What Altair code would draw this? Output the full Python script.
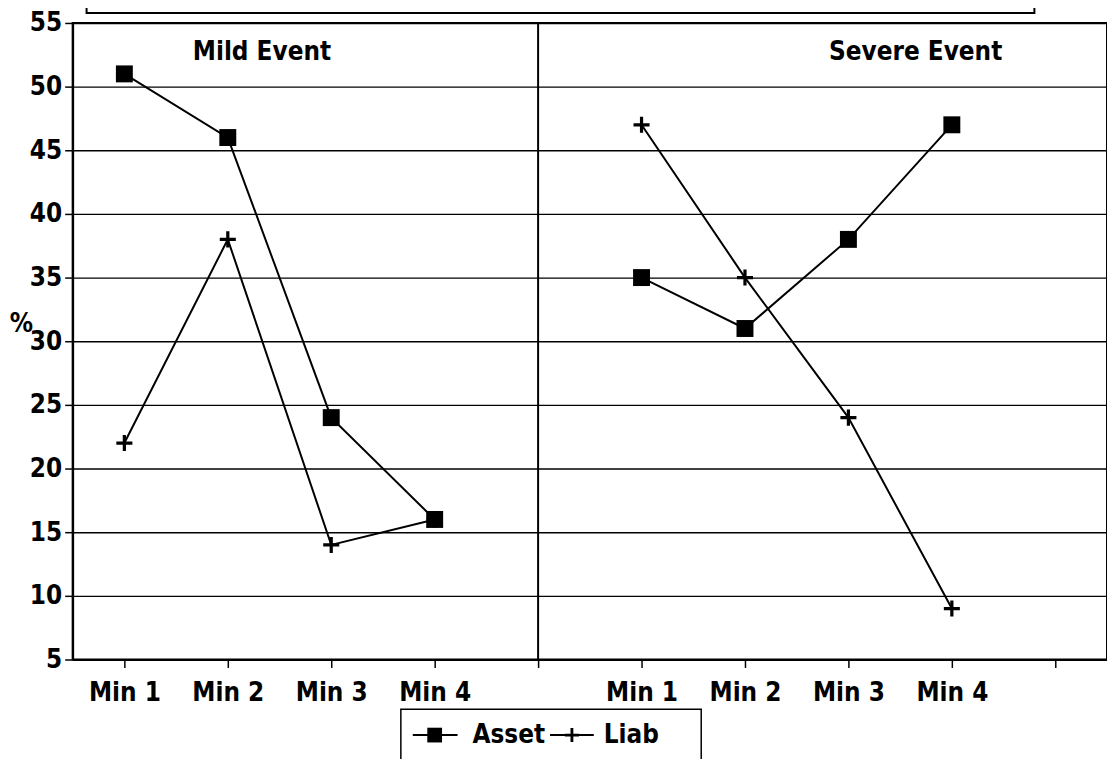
import json
import altair as alt
import pandas as pd

# ---- data -------------------------------------------------------------
minutes = ["Min 1", "Min 2", "Min 3", "Min 4"]
events = ["Mild Event", "Severe Event"]
series = ["Asset", "Liab"]
asset_mild = [51, 46, 24, 16]
liab_mild = [22, 38, 14, 16]
asset_severe = [35, 31, 38, 47]
liab_severe = [47, 35, 24, 9]
y_ticks = [5, 10, 15, 20, 25, 30, 35, 40, 45, 50, 55]

values = {
    ("Mild Event", "Asset"): asset_mild,
    ("Mild Event", "Liab"): liab_mild,
    ("Severe Event", "Asset"): asset_severe,
    ("Severe Event", "Liab"): liab_severe,
}
n_slot = len(minutes) + 1
rows = []
for ei, ev in enumerate(events):
    for s in series:
        for mi, m in enumerate(minutes):
            rows.append(dict(event=ev, series=s, minute=m,
                             slot=ei * n_slot + mi + 1,
                             pct=values[(ev, s)][mi],
                             group=ev + "|" + s))
df = pd.DataFrame(rows)

tick_labels = minutes + [""] + minutes + [""]
label_expr = json.dumps(tick_labels) + "[datum.value - 1]"

FONT = "DejaVu Sans Condensed, Liberation Sans Narrow, sans-serif"
FS = 26
FW = 600
PLUS = "M-1,-0.2H-0.2V-1H0.2V-0.2H1V0.2H0.2V1H-0.2V0.2H-1Z"

W, H = 1040, 640

x_enc = alt.X(
    "slot:Q",
    scale=alt.Scale(domain=[0.5, len(tick_labels) + 0.5], nice=False, zero=False),
    axis=alt.Axis(values=list(range(1, len(tick_labels) + 1)), labelExpr=label_expr,
                  grid=False, title=None, tickSize=8, tickColor="black", tickWidth=1.5,
                  domainColor="black", domainWidth=2, labelFont=FONT, labelFontSize=FS,
                  labelFontWeight=FW,
                  labelColor="black", labelPadding=12, labelFlush=False, labelOverlap=False),
)
y_enc = alt.Y(
    "pct:Q",
    scale=alt.Scale(domain=[y_ticks[0], y_ticks[-1]], nice=False, zero=False),
    axis=alt.Axis(values=y_ticks, grid=True, gridColor="black", gridWidth=1.4, gridOpacity=1,
                  title="%", titleAngle=0, titleX=-52, titleY=302, titleAlign="center",
                  titleBaseline="middle", titleFont=FONT, titleFontSize=FS,
                  titleFontWeight=FW, titleColor="black",
                  tickSize=8, tickColor="black", tickWidth=1.5, domainColor="black",
                  domainWidth=2, labelFont=FONT, labelFontSize=FS, labelColor="black",
                  labelFontWeight=FW, labelPadding=3),
)

base = alt.Chart(df)

lines = base.mark_line(color="black", strokeWidth=2).encode(
    x=x_enc, y=y_enc, detail="group:N", order="slot:Q")

squares = base.transform_filter(alt.datum.series == "Asset").mark_point(
    shape="square", filled=True, size=290, color="black", opacity=1
).encode(x="slot:Q", y="pct:Q")

pluses = base.transform_filter(alt.datum.series == "Liab").mark_point(
    shape=PLUS, filled=True, size=260, color="black", opacity=1
).encode(x="slot:Q", y="pct:Q")

divider = alt.Chart(pd.DataFrame({"slot": [n_slot]})).mark_rule(
    color="black", strokeWidth=2).encode(x="slot:Q")

titles_df = pd.DataFrame({"event": events, "tx": [2.33, 8.65], "ty": [52.7, 52.7]})
titles = alt.Chart(titles_df).mark_text(
    font=FONT, fontSize=FS, fontWeight=FW, color="black", align="center", baseline="middle"
).encode(x="tx:Q", y="ty:Q", text="event:N")

# top caption box (cut off at the top edge)
top_box = alt.Chart(pd.DataFrame({"a": [0]})).mark_rect(
    fillOpacity=0, stroke="black", strokeWidth=2
).encode(x=alt.value(14), x2=alt.value(967), y=alt.value(-60), y2=alt.value(-10))

# legend (drawn below the plot)
leg_y = 716
legend_box = alt.Chart(pd.DataFrame({"a": [0]})).mark_rect(
    fillOpacity=0, stroke="black", strokeWidth=1.5
).encode(x=alt.value(330), x2=alt.value(632), y=alt.value(690), y2=alt.value(800))
leg_line1 = alt.Chart(pd.DataFrame({"a": [0]})).mark_rule(color="black", strokeWidth=2).encode(
    x=alt.value(342), x2=alt.value(387), y=alt.value(leg_y))
leg_sq = alt.Chart(pd.DataFrame({"a": [0]})).mark_point(
    shape="square", filled=True, size=220, color="black", opacity=1
).encode(x=alt.value(364), y=alt.value(leg_y))
leg_line2 = alt.Chart(pd.DataFrame({"a": [0]})).mark_rule(color="black", strokeWidth=2).encode(
    x=alt.value(480), x2=alt.value(524), y=alt.value(leg_y))
leg_plus = alt.Chart(pd.DataFrame({"a": [0]})).mark_point(
    shape=PLUS, filled=True, size=200, color="black", opacity=1
).encode(x=alt.value(502), y=alt.value(leg_y))
leg_t1 = alt.Chart(pd.DataFrame({"s": [series[0]]})).mark_text(
    font=FONT, fontSize=FS, fontWeight=FW, color="black", align="left", baseline="middle"
).encode(x=alt.value(402), y=alt.value(leg_y), text="s:N")
leg_t2 = alt.Chart(pd.DataFrame({"s": [series[1]]})).mark_text(
    font=FONT, fontSize=FS, fontWeight=FW, color="black", align="left", baseline="middle"
).encode(x=alt.value(534), y=alt.value(leg_y), text="s:N")

chart = alt.layer(
    lines, divider, squares, pluses, titles, top_box,
    legend_box, leg_line1, leg_sq, leg_line2, leg_plus, leg_t1, leg_t2
).properties(
    width=W, height=H,
    autosize=alt.AutoSizeParams(type="none"),
    padding={"left": 65, "top": 13, "right": 0, "bottom": 98},
    background="white",
).configure_view(stroke="black", strokeWidth=2)

chart.save("out.html", embed_options={"renderer": "svg", "actions": False})
